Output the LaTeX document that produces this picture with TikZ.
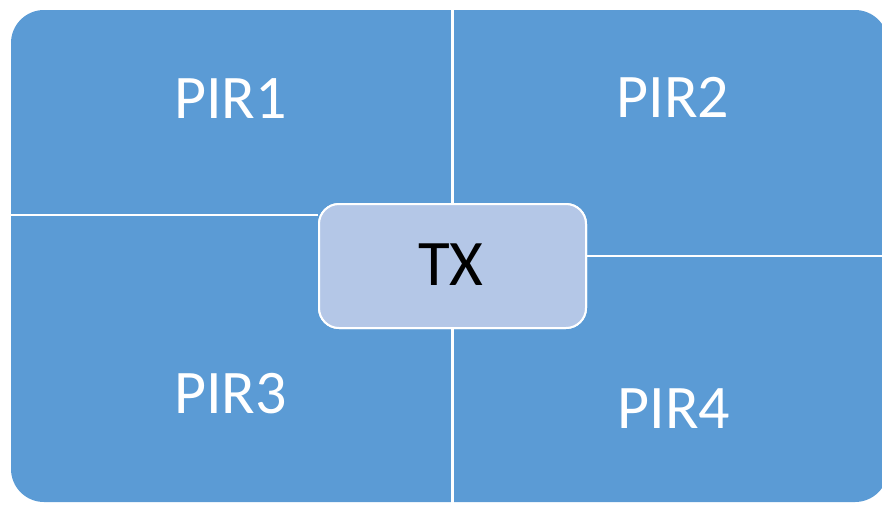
\documentclass[tikz,border=0pt]{standalone}
\usepackage{fontspec}
\setmainfont{Carlito}
\definecolor{quadblue}{HTML}{5B9BD5}
\definecolor{txfill}{HTML}{B4C7E7}
\begin{document}
\begin{tikzpicture}[x=1pt,y=-1pt,
  pirlabel/.style={text=white,font=\fontsize{62}{62}\selectfont,inner sep=0pt,anchor=base},
  txlabel/.style={text=black,font=\fontsize{65}{65}\selectfont,inner sep=0pt,anchor=base},
  txbox/.style={draw=white,line width=2pt,fill=txfill,rounded corners=20pt,minimum width=267pt,minimum height=124pt,inner sep=0pt},
  divider/.style={draw=white,line width=2pt}]
\useasboundingbox (0,0) rectangle (882,504);
\clip (0,0) rectangle (882,504);
% overall panel
\fill[quadblue,rounded corners=33pt] (11,10) rectangle (888,502);
% dividers
\draw[white,line width=3pt] (452.5,8) -- (452.5,504);
\coordinate (lstart) at (9,215);
\coordinate (rend) at (884,256);
% center box
\node[txbox] (tx) at (452.5,266) {};
\draw[divider] (lstart) -- (lstart -| tx.west);
\draw[divider] (rend -| tx.east) -- (rend);
\node[txbox] at (tx) {};
\node[txlabel] (txt) at (451,285) {TX};
% labels
\node[pirlabel] (p1) at (230.5,118) {PIR1};
\node[pirlabel] (p2) at (673,117) {PIR2};
\node[pirlabel] (p3) at (230.5,413) {PIR3};
\node[pirlabel] (p4) at (674,428) {PIR4};
\end{tikzpicture}
\end{document}
